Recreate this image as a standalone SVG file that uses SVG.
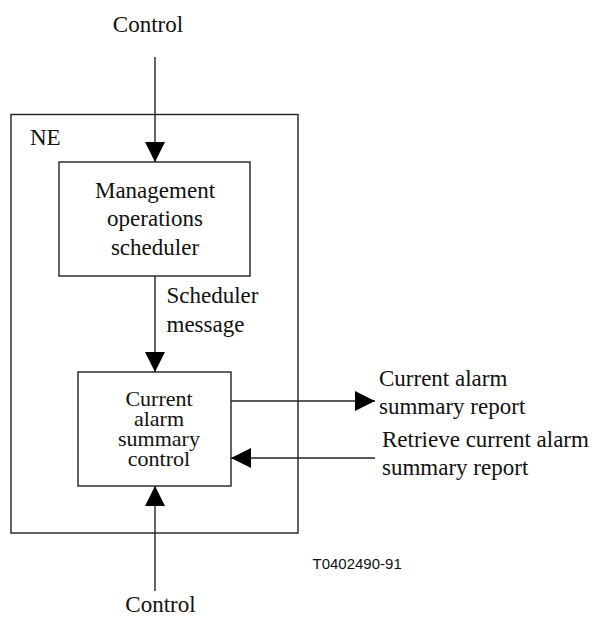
<svg xmlns="http://www.w3.org/2000/svg" width="597" height="617" viewBox="0 0 597 617">
<style>
  .t { font-family: "Liberation Serif", "Times New Roman", serif; font-size: 23px; fill: #111; }
  .b { font-size: 22px; }
  .c { text-anchor: middle; }
  .s { font-family: "Liberation Sans", Arial, sans-serif; font-size: 15px; fill: #111; }
  .box { fill: #fff; stroke: #222; stroke-width: 1.4; }
  .ln { fill: none; stroke: #222; stroke-width: 1.4; }
</style>
<defs>
  <marker id="ah" markerUnits="userSpaceOnUse" markerWidth="20" markerHeight="20" refX="20" refY="10" orient="auto">
    <path d="M0,0 L20,10 L0,20 Z" fill="#000"/>
  </marker>
</defs>
<rect width="597" height="617" fill="#fff"/>
<g id="ne">
  <rect class="box" x="11" y="114.5" width="287" height="418.5" fill="none"/>
  <text class="t" x="30" y="145">NE</text>
</g>
<g id="scheduler">
  <rect class="box" x="59" y="162" width="191" height="114"/>
  <text class="t c" x="155" y="197.5">Management</text>
  <text class="t c" x="155" y="226">operations</text>
  <text class="t c" x="155" y="254.5">scheduler</text>
</g>
<g id="control-block">
  <rect class="box" x="78" y="372" width="153" height="114"/>
  <text class="t b c" x="159" y="406">Current</text>
  <text class="t b c" x="159" y="426">alarm</text>
  <text class="t b c" x="159" y="446">summary</text>
  <text class="t b c" x="159" y="466">control</text>
</g>
<g id="labels">
  <text class="t c" x="148" y="32">Control</text>
  <text class="t c" x="160.5" y="612">Control</text>
  <text class="t" x="166.5" y="303">Scheduler</text>
  <text class="t" x="166.5" y="332">message</text>
  <text class="t" x="379" y="386">Current alarm</text>
  <text class="t" x="379" y="414">summary report</text>
  <text class="t" x="382" y="447">Retrieve current alarm</text>
  <text class="t" x="382" y="475">summary report</text>
  <text class="s" x="312.5" y="569">T0402490-91</text>
</g>
<g id="connectors">
  <line class="ln" x1="155" y1="57" x2="155" y2="162" marker-end="url(#ah)"/>
  <line class="ln" x1="155" y1="276" x2="155" y2="372" marker-end="url(#ah)"/>
  <line class="ln" x1="231" y1="401" x2="375" y2="401" marker-end="url(#ah)"/>
  <line class="ln" x1="375" y1="458" x2="231" y2="458" marker-end="url(#ah)"/>
  <line class="ln" x1="155" y1="591" x2="155" y2="486" marker-end="url(#ah)"/>
</g>
</svg>
